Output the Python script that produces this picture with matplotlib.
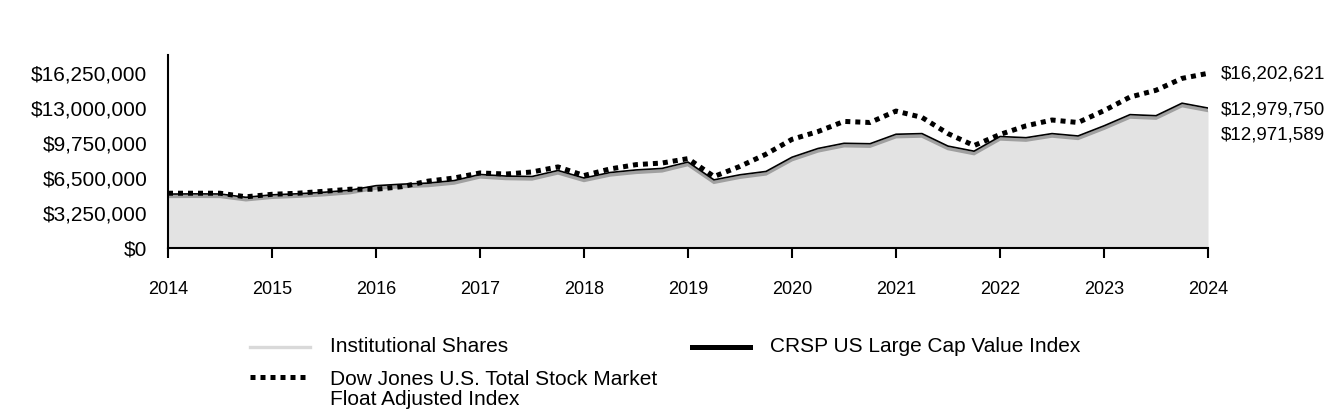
import numpy as np
import matplotlib.pyplot as plt
import matplotlib.transforms as mtransforms
from matplotlib.lines import Line2D

plt.rcParams['font.family'] = ['Liberation Sans', 'DejaVu Sans']

# quarterly values, 2014 Q1 .. 2024 Q1 (millions of $)
crsp = [5.00, 5.02, 5.01, 4.70, 4.93, 5.03, 5.17, 5.36, 5.78, 5.92,
        6.02, 6.25, 6.82, 6.67, 6.63, 7.19, 6.49, 7.00, 7.24, 7.38,
        7.97, 6.32, 6.79, 7.10, 8.42, 9.23, 9.71, 9.67, 10.55, 10.61,
        9.45, 8.98, 10.34, 10.23, 10.61, 10.39, 11.33, 12.37, 12.27, 13.43,
        12.97975]
fund = [5.00, 5.01, 5.00, 4.69, 4.92, 5.02, 5.16, 5.35, 5.77, 5.91,
        6.01, 6.24, 6.81, 6.66, 6.62, 7.18, 6.48, 6.99, 7.23, 7.37,
        7.96, 6.31, 6.78, 7.09, 8.41, 9.22, 9.70, 9.66, 10.54, 10.60,
        9.44, 8.97, 10.33, 10.22, 10.60, 10.38, 11.32, 12.36, 12.26, 13.42,
        12.971589]
dowjones = [5.08, 5.08, 5.08, 4.75, 4.98, 5.08, 5.26, 5.45, 5.45, 5.69,
            6.20, 6.49, 6.96, 6.86, 7.05, 7.52, 6.72, 7.33, 7.73, 7.88,
            8.29, 6.63, 7.57, 8.70, 10.08, 10.80, 11.74, 11.64, 12.70, 12.11,
            10.61, 9.50, 10.53, 11.33, 11.87, 11.64, 12.74, 14.00, 14.63, 15.73,
            16.202621]
years = list(range(2014, 2025))
yticks = [0, 3250000, 6500000, 9750000, 13000000, 16250000]
end_labels = ['$16,202,621', '$12,979,750', '$12,971,589']

x = 2014 + np.arange(len(fund)) / 4
fund = np.array(fund) * 1e6
crsp = np.array(crsp) * 1e6
dowjones = np.array(dowjones) * 1e6

fig = plt.figure(figsize=(13.44, 4.2), dpi=100)
ax = fig.add_axes([168/1344, 1 - 248/420, 1040/1344, 193/420])

shift = mtransforms.offset_copy(ax.transData, fig=fig, x=0, y=-2.4, units='dots')
ax.fill_between(x, fund, 0, color='#e3e3e3', linewidth=0, transform=shift)
ax.plot(x, fund, color='#a0a0a0', lw=2.4, transform=shift, solid_joinstyle='miter')
ax.plot(x, crsp, color='black', lw=1.2)
ax.plot(x, dowjones, color='black', lw=3.6, linestyle=(0, (1, 1)))

ax.set_xlim(2014, 2024)
ax.set_ylim(0, 17.9e6)
ax.set_xticks(years)
ax.set_xticklabels([str(y) for y in years], fontsize=13)
ax.set_yticks(yticks)
ax.set_yticklabels(['${:,.0f}'.format(v) for v in yticks], fontsize=15)
ax.tick_params(axis='x', length=7, width=1.5, pad=17, direction='out')
ax.tick_params(axis='y', length=0, pad=15)
for s in ['top', 'right']:
    ax.spines[s].set_visible(False)
for s in ['left', 'bottom']:
    ax.spines[s].set_linewidth(1.5)
    ax.spines[s].set_zorder(5)

# end-of-period value labels
fig.text(1221/1344, 1 - 74/420, end_labels[0], fontsize=13.5, va='center')
fig.text(1221/1344, 1 - 110/420, end_labels[1], fontsize=13.5, va='center')
fig.text(1221/1344, 1 - 135/420, end_labels[2], fontsize=13.5, va='center')

# legend
def fx(px):
    return px / 1344

def fy(py):
    return 1 - py / 420

fig.add_artist(Line2D([fx(250), fx(310)], [fy(347), fy(347)], color='#d9d9d9', lw=2.4))
fig.text(fx(330), fy(347), 'Institutional Shares', fontsize=15, va='center')
fig.add_artist(Line2D([fx(250), fx(310)], [fy(377), fy(377)], color='black', lw=3.6,
                      linestyle=(0, (1, 1))))
fig.text(fx(330), fy(370), 'Dow Jones U.S. Total Stock Market\nFloat Adjusted Index',
         fontsize=15, va='top', linespacing=1.07)
fig.add_artist(Line2D([fx(692), fx(750)], [fy(347), fy(347)], color='black', lw=3.6))
fig.text(fx(770), fy(347), 'CRSP US Large Cap Value Index', fontsize=15, va='center')

fig.savefig('out.png', dpi=100)
